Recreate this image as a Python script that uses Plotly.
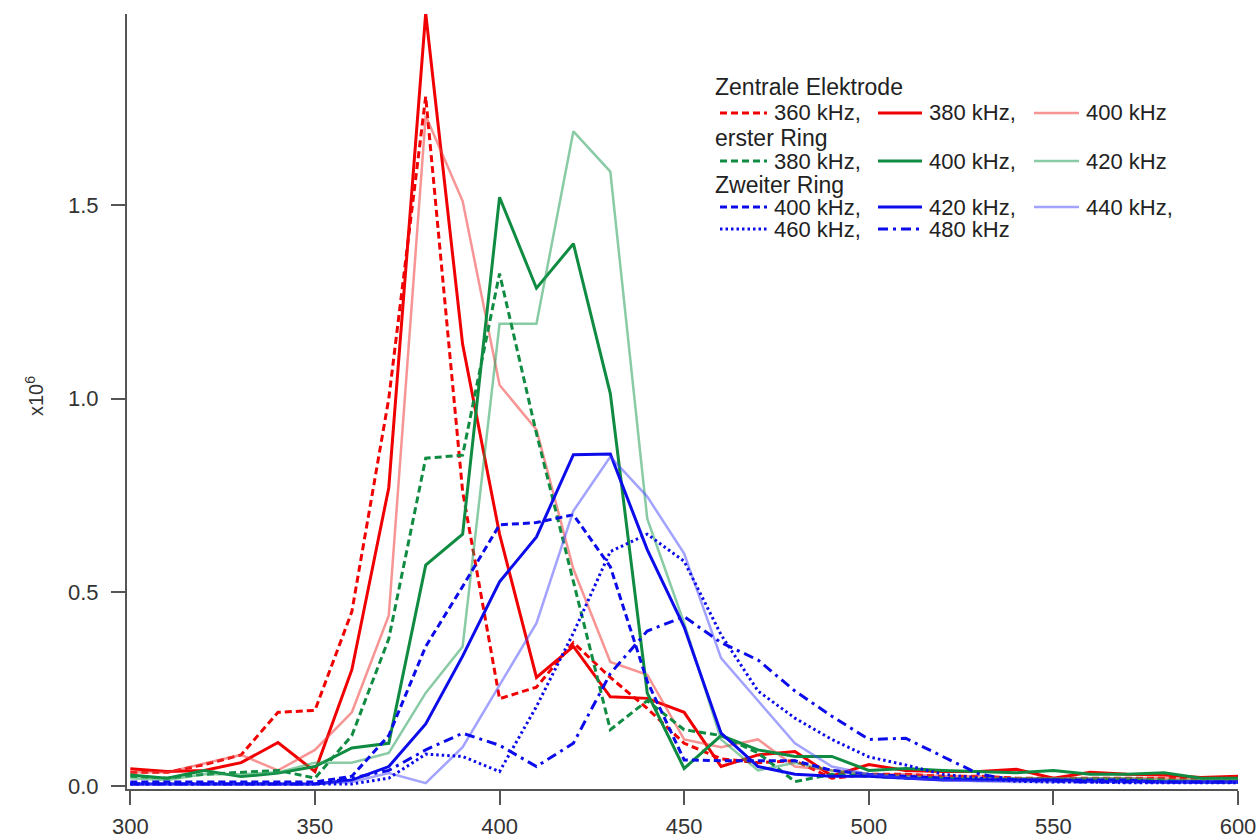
import plotly.graph_objects as go

# ---- data (frequency axis in kHz, values in units of 1e6) ----
freq = list(range(300, 601, 10))

zentral_360 = [0.035, 0.035, 0.055, 0.08, 0.19, 0.195, 0.45, 1.0, 1.78, 0.76, 0.225, 0.255, 0.37, 0.28, 0.2, 0.11,
               0.07, 0.06, 0.065, 0.02, 0.03, 0.03, 0.025, 0.025, 0.02, 0.02, 0.02, 0.02, 0.02, 0.02, 0.02]
zentral_380 = [0.044, 0.037, 0.04, 0.06, 0.112, 0.037, 0.30, 0.77, 1.995, 1.14, 0.65, 0.28, 0.36, 0.23, 0.226, 0.19,
               0.05, 0.08, 0.089, 0.026, 0.055, 0.04, 0.037, 0.037, 0.043, 0.02, 0.035, 0.03, 0.028, 0.022, 0.025]
zentral_400 = [0.035, 0.035, 0.058, 0.08, 0.04, 0.093, 0.19, 0.44, 1.73, 1.51, 1.035, 0.92, 0.56, 0.32, 0.287, 0.12,
               0.10, 0.12, 0.05, 0.04, 0.03, 0.03, 0.025, 0.025, 0.02, 0.02, 0.02, 0.02, 0.02, 0.015, 0.015]

ring1_380 = [0.025, 0.02, 0.03, 0.035, 0.04, 0.02, 0.13, 0.38, 0.846, 0.854, 1.323, 0.91, 0.53, 0.145, 0.22, 0.145,
             0.13, 0.085, 0.011, 0.03, 0.025, 0.02, 0.02, 0.015, 0.015, 0.015, 0.015, 0.015, 0.015, 0.01, 0.01]
ring1_400 = [0.028, 0.02, 0.04, 0.024, 0.033, 0.05, 0.098, 0.11, 0.57, 0.65, 1.52, 1.285, 1.40, 1.013, 0.24, 0.045,
             0.13, 0.093, 0.076, 0.076, 0.04, 0.045, 0.04, 0.037, 0.034, 0.04, 0.03, 0.03, 0.034, 0.02, 0.02]
ring1_420 = [0.02, 0.015, 0.03, 0.03, 0.035, 0.06, 0.06, 0.085, 0.24, 0.36, 1.193, 1.193, 1.69, 1.586, 0.69, 0.42,
             0.12, 0.04, 0.06, 0.04, 0.03, 0.025, 0.02, 0.02, 0.02, 0.02, 0.02, 0.02, 0.015, 0.015, 0.015]

ring2_400 = [0.01, 0.01, 0.01, 0.01, 0.01, 0.01, 0.025, 0.13, 0.36, 0.515, 0.674, 0.68, 0.70, 0.566, 0.27, 0.067,
             0.065, 0.065, 0.065, 0.04, 0.03, 0.025, 0.02, 0.015, 0.015, 0.015, 0.015, 0.015, 0.01, 0.01, 0.01]
ring2_420 = [0.005, 0.005, 0.005, 0.005, 0.005, 0.005, 0.015, 0.05, 0.16, 0.335, 0.527, 0.643, 0.855, 0.857, 0.61, 0.41,
             0.136, 0.05, 0.03, 0.025, 0.025, 0.02, 0.015, 0.015, 0.015, 0.015, 0.012, 0.012, 0.01, 0.01, 0.01]
ring2_440 = [0.005, 0.005, 0.005, 0.005, 0.005, 0.005, 0.01, 0.033, 0.007, 0.1, 0.26, 0.42, 0.71, 0.85, 0.747, 0.6,
             0.33, 0.22, 0.11, 0.05, 0.03, 0.02, 0.015, 0.012, 0.01, 0.01, 0.01, 0.01, 0.01, 0.01, 0.01]
ring2_460 = [0.005, 0.005, 0.005, 0.005, 0.005, 0.005, 0.005, 0.02, 0.082, 0.076, 0.037, 0.205, 0.395, 0.605, 0.65, 0.58,
             0.39, 0.245, 0.175, 0.12, 0.075, 0.054, 0.03, 0.02, 0.012, 0.01, 0.01, 0.008, 0.008, 0.008, 0.008]
ring2_480 = [0.005, 0.005, 0.005, 0.005, 0.005, 0.005, 0.02, 0.04, 0.093, 0.136, 0.105, 0.05, 0.11, 0.29, 0.40, 0.437,
             0.37, 0.325, 0.245, 0.18, 0.12, 0.123, 0.076, 0.03, 0.015, 0.012, 0.01, 0.01, 0.01, 0.01, 0.01]

x_ticks = [300, 350, 400, 450, 500, 550, 600]
y_ticks = [0.0, 0.5, 1.0, 1.5]

RED, RED_L = "rgb(240,0,0)", "rgba(240,60,60,0.55)"
GRN, GRN_L = "rgb(16,140,66)", "rgba(40,160,90,0.55)"
BLU, BLU_L = "rgb(12,12,235)", "rgba(70,70,255,0.5)"
DASH = "7px,4px"
DOT = "2.5px,3px"
DASHDOT = "10px,5px,3px,5px"

series = [
    (zentral_360, RED, 3, DASH), (zentral_380, RED, 3, "solid"), (zentral_400, RED_L, 2.5, "solid"),
    (ring1_380, GRN, 3, DASH), (ring1_400, GRN, 3, "solid"), (ring1_420, GRN_L, 2.5, "solid"),
    (ring2_400, BLU, 3, DASH), (ring2_420, BLU, 3, "solid"), (ring2_440, BLU_L, 2.5, "solid"),
    (ring2_460, BLU, 3, DOT), (ring2_480, BLU, 3, DASHDOT),
]

fig = go.Figure()
for ys, col, w, d in series:
    fig.add_trace(go.Scatter(x=freq, y=ys, mode="lines", showlegend=False,
                             line=dict(color=col, width=w, dash=d)))

# ---- layout geometry (pixels) ----
FIG_W, FIG_H = 1260, 840
PL, PR, PT, PB = 127, 1238, 14, 789          # plot area in page pixels
L, T = PL, PT
R = FIG_W - PR
B = FIG_H - PB
W = PR - PL
H = PB - PT
FONT = "Liberation Sans, Arial, Helvetica, sans-serif"

def xp(px):
    return (px - PL) / W

def yp(py):
    return (PB - py) / H

# ---- custom legend ----
shapes = []
annos = []
LFS = 22

def title(text, py):
    annos.append(dict(xref="paper", yref="paper", x=xp(714), y=yp(py), text=text, showarrow=False,
                      xanchor="left", yanchor="middle", borderpad=0,
                      font=dict(size=23, color="#222", family=FONT)))

def entry(col, w, d, x0, x1, py, text):
    shapes.append(dict(type="line", xref="paper", yref="paper", x0=xp(x0), x1=xp(x1), y0=yp(py), y1=yp(py),
                       line=dict(color=col, width=w, dash=d)))
    annos.append(dict(xref="paper", yref="paper", x=xp(x1 + 6), y=yp(py), text=text, showarrow=False,
                      xanchor="left", yanchor="middle", borderpad=0,
                      font=dict(size=LFS, color="#222", family=FONT)))

c1, c2, c3 = (720, 767), (878, 922), (1034, 1079)
title("Zentrale Elektrode", 87)
entry(RED, 3, DASH, *c1, 113, "360 kHz,")
entry(RED, 3, "solid", *c2, 113, "380 kHz,")
entry(RED_L, 2.5, "solid", *c3, 113, "400 kHz")
title("erster Ring", 138)
entry(GRN, 3, DASH, *c1, 161, "380 kHz,")
entry(GRN, 3, "solid", *c2, 161, "400 kHz,")
entry(GRN_L, 2.5, "solid", *c3, 161, "420 kHz")
title("Zweiter Ring", 185)
entry(BLU, 3, DASH, *c1, 207, "400 kHz,")
entry(BLU, 3, "solid", *c2, 207, "420 kHz,")
entry(BLU_L, 2.5, "solid", *c3, 207, "440 kHz,")
entry(BLU, 3, DOT, *c1, 229, "460 kHz,")
entry(BLU, 3, DASHDOT, *c2, 229, "480 kHz")

# y-axis unit label
annos.append(dict(xref="paper", yref="paper", x=xp(34), y=yp(396), text="x10<sup>6</sup>", showarrow=False,
                  textangle=-90, xanchor="center", yanchor="middle",
                  font=dict(size=20, color="#333", family=FONT)))

axis_common = dict(showline=True, linecolor="#555", linewidth=2, ticks="outside", ticklen=14, tickwidth=2,
                   tickcolor="#555", showgrid=False, zeroline=False, automargin=False,
                   tickfont=dict(size=22, color="#333", family=FONT))

fig.update_layout(
    width=FIG_W, height=FIG_H,
    margin=dict(l=L, r=R, t=T, b=B, pad=0, autoexpand=False),
    paper_bgcolor="white", plot_bgcolor="white",
    xaxis=dict(range=[299.1, 600], tickvals=x_ticks, ticktext=[str(v) for v in x_ticks],
               ticklabelstandoff=3, **axis_common),
    yaxis=dict(range=[-0.008, 1.993], tickvals=y_ticks, ticktext=[f"{v:.1f}" for v in y_ticks],
               ticklabelstandoff=8, **axis_common),
    shapes=shapes, annotations=annos, showlegend=False,
)

fig.write_html("out.html", config={"displayModeBar": False, "staticPlot": True},
               post_script="document.body.style.margin='0';document.body.style.overflow='hidden';")
